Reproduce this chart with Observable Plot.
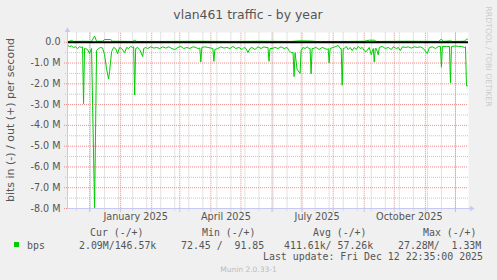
<!DOCTYPE html>
<html><head><meta charset="utf-8">
<script src="https://cdn.jsdelivr.net/npm/d3@7"></script>
<script src="https://cdn.jsdelivr.net/npm/@observablehq/plot@0.6"></script>
<style>
body{margin:0;background:#f0f0f0;}
#chart{width:497px;height:280px;}
svg text{white-space:pre;}
</style></head><body><div id="chart"></div>
<script>
// ---- data (values in M bits/s; "in" drawn negative) ----
const inDates = ["2024-11-09","2024-11-11","2024-11-13","2024-11-15","2024-11-17","2024-11-19","2024-11-21","2024-11-23","2024-11-24","2024-11-25","2024-11-26","2024-11-27","2024-11-29","2024-12-01","2024-12-03","2024-12-06","2024-12-08","2024-12-10","2024-12-12","2024-12-14","2024-12-16","2024-12-18","2024-12-20","2024-12-21","2024-12-23","2024-12-25","2024-12-27","2024-12-29","2024-12-31",
"2025-01-02","2025-01-05","2025-01-07","2025-01-09","2025-01-11","2025-01-13","2025-01-14","2025-01-15","2025-01-16","2025-01-18","2025-01-20","2025-01-23","2025-01-24","2025-01-26","2025-01-28","2025-01-31",
"2025-02-03","2025-02-06","2025-02-09","2025-02-12","2025-02-15","2025-02-18","2025-02-21","2025-02-24","2025-02-27",
"2025-03-02","2025-03-05","2025-03-08","2025-03-11","2025-03-14","2025-03-17","2025-03-19","2025-03-21","2025-03-22","2025-03-23","2025-03-26","2025-03-29",
"2025-04-01","2025-04-03","2025-04-04","2025-04-05","2025-04-08","2025-04-11","2025-04-14","2025-04-17","2025-04-20","2025-04-23","2025-04-26","2025-04-29",
"2025-05-02","2025-05-04","2025-05-06","2025-05-08","2025-05-10","2025-05-12","2025-05-15","2025-05-18","2025-05-21","2025-05-24","2025-05-26","2025-05-28","2025-05-29","2025-05-30",
"2025-06-01","2025-06-04","2025-06-07","2025-06-10","2025-06-13","2025-06-16","2025-06-18","2025-06-20","2025-06-22","2025-06-23","2025-06-24","2025-06-26","2025-06-29","2025-06-30",
"2025-07-02","2025-07-04","2025-07-06","2025-07-08","2025-07-09","2025-07-10","2025-07-11","2025-07-12","2025-07-15","2025-07-18","2025-07-21","2025-07-24","2025-07-26","2025-07-27","2025-07-28","2025-07-29",
"2025-08-01","2025-08-04","2025-08-06","2025-08-08","2025-08-09","2025-08-10","2025-08-11","2025-08-12","2025-08-14","2025-08-16","2025-08-18","2025-08-20","2025-08-22","2025-08-24","2025-08-26","2025-08-28","2025-08-30",
"2025-09-01","2025-09-03","2025-09-06","2025-09-08","2025-09-10","2025-09-11","2025-09-12","2025-09-13","2025-09-15","2025-09-16","2025-09-19","2025-09-22","2025-09-25","2025-09-28","2025-09-30",
"2025-10-03","2025-10-05","2025-10-07","2025-10-09","2025-10-12","2025-10-15","2025-10-18","2025-10-21","2025-10-24","2025-10-27","2025-10-30",
"2025-11-03","2025-11-05","2025-11-08","2025-11-11","2025-11-14","2025-11-16","2025-11-17","2025-11-18","2025-11-22","2025-11-25","2025-11-26","2025-11-27",
"2025-12-01","2025-12-04","2025-12-07","2025-12-10","2025-12-11","2025-12-12","2025-12-13"];
const inValues = [-0.15,-0.20,-0.18,-0.25,-0.22,-0.30,-0.22,-0.25,-0.22,-2.95,-0.30,-0.30,-0.35,-0.55,-0.30,-8.00,-0.40,-0.30,-0.25,-0.28,-0.60,-1.30,-1.76,-1.40,-0.45,-0.25,-0.30,-0.55,-0.25,
-0.30,-0.50,-0.25,-0.30,-0.20,-0.25,-0.22,-2.53,-0.30,-0.25,-0.35,-0.69,-0.30,-0.25,-0.30,-0.22,
-0.28,-0.25,-0.30,-0.22,-0.28,-0.22,-0.30,-0.35,-0.25,
-0.20,-0.30,-0.25,-0.30,-0.22,-0.25,-0.30,-0.28,-0.95,-0.25,-0.22,-0.25,
-0.28,-0.30,-0.92,-0.35,-0.30,-0.22,-0.28,-0.25,-0.30,-0.20,-0.30,-0.25,
-0.35,-0.25,-0.30,-0.50,-0.30,-0.25,-0.35,-0.22,-0.30,-0.22,-0.25,-0.25,-0.92,-0.30,
-0.30,-0.25,-0.30,-0.22,-0.30,-0.25,-0.40,-0.50,-0.50,-1.65,-0.50,-1.30,-1.50,-0.40,
-0.25,-0.30,-0.22,-0.30,-0.30,-1.52,-0.30,-0.30,-0.25,-0.35,-0.25,-0.30,-0.35,-0.30,-0.99,-0.30,
-0.25,-0.20,-0.15,-0.30,-0.30,-2.07,-0.30,-0.30,-0.20,-0.35,-0.25,-0.40,-0.25,-0.35,-0.20,-0.30,-0.25,
-0.40,-0.45,-0.25,-0.60,-0.30,-0.95,-0.30,-0.30,-0.60,-0.25,-0.20,-0.30,-0.25,-0.35,-0.22,
-0.30,-0.25,-0.40,-0.22,-0.25,-0.22,-0.28,-0.22,-0.25,-0.22,-0.30,
-0.54,-0.25,-0.22,-0.30,-0.20,-0.20,-1.20,-0.20,-0.20,-0.20,-1.95,-0.20,
-0.18,-0.20,-0.20,-0.25,-0.22,-2.10,-2.10];
const outDates = ["2024-11-09","2024-11-11","2024-11-13","2024-11-15","2024-11-25","2024-12-03","2024-12-06","2024-12-08","2024-12-14","2024-12-16","2024-12-22","2024-12-24","2025-01-13","2025-01-15","2025-01-17","2025-02-15","2025-03-20","2025-04-20","2025-05-20","2025-06-20","2025-06-29","2025-07-10","2025-07-15","2025-08-15","2025-09-01","2025-09-06","2025-09-11","2025-09-13","2025-10-15","2025-11-14","2025-11-17","2025-11-19","2025-11-26","2025-11-28","2025-12-10","2025-12-12","2025-12-13"];
const outValues = [0.03,0.05,0.09,0.04,0.05,0.04,0.30,0.05,0.05,0.13,0.13,0.05,0.04,0.10,0.04,0.04,0.05,0.04,0.05,0.04,0.07,0.06,0.04,0.04,0.05,0.10,0.10,0.04,0.05,0.04,0.15,0.04,0.07,0.04,0.05,0.15,0.15];

const yTicks = [0,-1,-2,-3,-4,-5,-6,-7,-8];
const yTickLabels = ["0.0","-1.0 M","-2.0 M","-3.0 M","-4.0 M","-5.0 M","-6.0 M","-7.0 M","-8.0 M"];
const yMinorTicks = [-0.5,-1.5,-2.5,-3.5,-4.5,-5.5,-6.5,-7.5];
const xLabelDates = ["2025-01-16","2025-04-16","2025-07-16","2025-10-16"];
const xLabels = ["January 2025","April 2025","July 2025","October 2025"];
const title = "vlan461 traffic - by year";
const yLabel = "bits in (-) / out (+) per second";
const seriesName = "bps";
const legendHeaders = ["Cur (-/+)","Min (-/+)","Avg (-/+)","Max (-/+)"];
const legendValues = ["2.09M/146.57k","72.45 /  91.85","411.61k/ 57.26k","27.28M/  1.33M"];
const lastUpdate = "Last update: Fri Dec 12 22:35:00 2025";
const footer = "Munin 2.0.33-1";
const watermark = "RRDTOOL / TOBI OETIKER";

// ---- build ----
const DAY = 864e5;
const start = new Date("2024-11-09"), end = new Date("2025-12-14");
const inData = inDates.map((d,i)=>({date:new Date(d), v:inValues[i]}));
const outData = outDates.map((d,i)=>({date:new Date(d), v:outValues[i]}));
const months = d3.utcMonth.range(start, end);
const minorX = d3.utcDay.range(new Date("2024-11-18"), end, 14);
const green = "#00cc00";
const axisCol = "#c8c8f4";
const yTop = 0.47;

const plot = Plot.plot({
  width:497, height:280, marginLeft:67, marginRight:29, marginTop:32, marginBottom:72,
  style:{background:"#f0f0f0", fontFamily:"DejaVu Sans", overflow:"visible"},
  x:{type:"utc", domain:[start,end], axis:null},
  y:{domain:[-8,yTop], axis:null},
  marks:[
    Plot.frame({fill:"white", stroke:null}),
    Plot.ruleX(minorX, {x:d=>d, y1:()=>-8.12, y2:()=>yTop, stroke:"#c4c4c4", strokeDasharray:"1,1", strokeWidth:1}),
    Plot.ruleY(yMinorTicks, {y:d=>d, x1:()=>new Date(+start-2*DAY), x2:()=>end, stroke:"#c4c4c4", strokeDasharray:"1,1", strokeWidth:1}),
    Plot.ruleX(months, {x:d=>d, y1:()=>-8.18, y2:()=>yTop, stroke:"#f08a8a", strokeDasharray:"1,1", strokeWidth:1}),
    Plot.ruleY(yTicks, {y:d=>d, x1:()=>new Date(+start-3*DAY), x2:()=>end, stroke:"#f08a8a", strokeDasharray:"1,1", strokeWidth:1}),
    Plot.line(outData, {x:"date", y:"v", stroke:green, strokeWidth:1}),
    Plot.line(inData, {x:"date", y:"v", stroke:green, strokeWidth:1}),
    Plot.ruleY([0], {x1:()=>start, x2:()=>end, stroke:"black", strokeWidth:2}),
    Plot.ruleX([start], {y1:()=>-8, y2:()=>0.6, stroke:axisCol, strokeWidth:1}),
    Plot.ruleY([-8], {x1:()=>start, x2:()=>new Date(+start+403*DAY), stroke:axisCol, strokeWidth:1}),
    Plot.dot([0], {x:()=>start, y:()=>0.57, symbol:"triangle", r:2.1, fill:axisCol, stroke:null}),
    Plot.dot([0], {x:()=>new Date(+start+403*DAY), y:()=>-8, symbol:"triangle", r:2.1, rotate:90, fill:axisCol, stroke:null}),
    Plot.text(yTicks, {x:()=>start, y:d=>d, text:(d,i)=>yTickLabels[i], textAnchor:"end", dx:-7, fontSize:9.6, fill:"#555"}),
    Plot.text(xLabelDates, {x:d=>new Date(d), y:()=>-8, text:(d,i)=>xLabels[i], lineAnchor:"bottom", dy:11.7, fontSize:9.7, fill:"#555"})
  ]
});
document.getElementById("chart").appendChild(plot);

const svg = d3.select(plot);
function addText(x, y, t, opts={}) {
  const el = svg.append("text").attr("x",x).attr("y",y)
    .attr("text-anchor", opts.anchor || "start")
    .attr("font-family", opts.font || "DejaVu Sans")
    .attr("font-size", opts.size || 9.9)
    .attr("fill", opts.fill || "#555")
    .text(t);
  if (opts.transform) el.attr("transform", opts.transform).attr("x",0).attr("y",0);
  if (opts.baseline) el.attr("dominant-baseline", opts.baseline);
  return el;
}
addText(248, 19, title, {anchor:"middle", size:12.4});
addText(0, 0, yLabel, {anchor:"middle", size:11, transform:"translate(14,120) rotate(-90)"});
addText(0, 0, watermark, {anchor:"middle", size:7.8, fill:"#cccccc", baseline:"central", transform:"translate(488.3,56.5) rotate(90)"});

const mono = "DejaVu Sans Mono";
const hdrX = [90,202,313,423];
const valX = [79,181,284,398];
legendHeaders.forEach((t,i)=>addText(hdrX[i], 236, t, {font:mono}));
legendValues.forEach((t,i)=>addText(valX[i], 249, t, {font:mono}));
svg.append("rect").attr("x",14).attr("y",242).attr("width",5).attr("height",5).attr("fill",green);
addText(27, 249, seriesName, {font:mono});
addText(483, 260, lastUpdate, {font:mono, anchor:"end"});
addText(248.5, 271.5, footer, {anchor:"middle", size:7.5, fill:"#bbbbbb"});
</script></body></html>
